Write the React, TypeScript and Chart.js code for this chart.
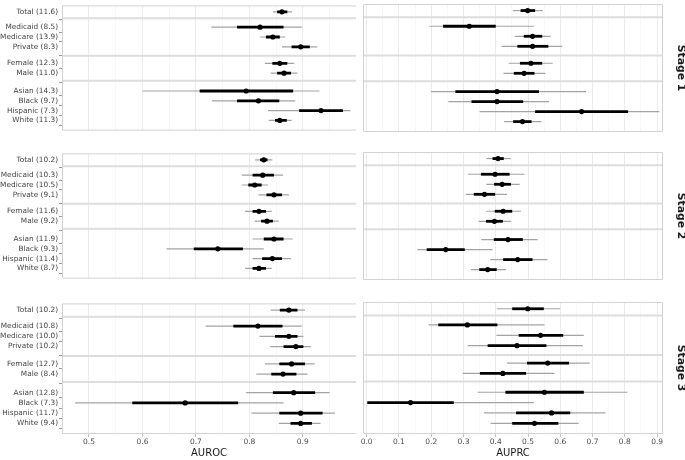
import React, { useEffect, useRef } from "react";
import { Chart, registerables } from "chart.js";

Chart.register(...registerables);

// ---------- data ----------
const GROUP_SIZES = [1, 3, 2, 4];
const STAGE_NAMES = ["Stage 1", "Stage 2", "Stage 3"];

const S1_LABELS = ["Total (11.6)", "Medicaid (8.5)", "Medicare (13.9)", "Private (8.3)", "Female (12.3)", "Male (11.0)", "Asian (14.3)", "Black (9.7)", "Hispanic (7.3)", "White (11.3)"];
const S2_LABELS = ["Total (10.2)", "Medicaid (10.3)", "Medicare (10.5)", "Private (9.1)", "Female (11.6)", "Male (9.2)", "Asian (11.9)", "Black (9.3)", "Hispanic (11.4)", "White (8.7)"];
const S3_LABELS = ["Total (10.2)", "Medicaid (10.8)", "Medicare (10.0)", "Private (10.2)", "Female (12.7)", "Male (8.4)", "Asian (12.8)", "Black (7.3)", "Hispanic (11.7)", "White (9.4)"];

const AUROC_TICKS = [0.5, 0.6, 0.7, 0.8, 0.9];
const AUPRC_TICKS = [0.0, 0.1, 0.2, 0.3, 0.4, 0.5, 0.6, 0.7, 0.8, 0.9];
const AUROC_RANGE = [0.4495, 0.9995];
const AUPRC_RANGE = [-0.0113, 0.9183];

const S1_AUROC_EST = [0.861, 0.820, 0.844, 0.896, 0.857, 0.865, 0.794, 0.817, 0.934, 0.857];
const S1_AUROC_INNER = [[0.852, 0.871], [0.777, 0.864], [0.831, 0.857], [0.879, 0.913], [0.843, 0.871], [0.852, 0.878], [0.707, 0.882], [0.777, 0.856], [0.893, 0.975], [0.848, 0.870]];
const S1_AUROC_OUTER = [[0.844, 0.880], [0.729, 0.898], [0.820, 0.867], [0.861, 0.927], [0.829, 0.884], [0.840, 0.890], [0.600, 0.931], [0.730, 0.886], [0.835, 0.989], [0.836, 0.879]];

const S1_AUPRC_EST = [0.499, 0.318, 0.514, 0.514, 0.509, 0.488, 0.404, 0.404, 0.666, 0.483];
const S1_AUPRC_INNER = [[0.477, 0.522], [0.237, 0.400], [0.487, 0.544], [0.467, 0.563], [0.475, 0.544], [0.456, 0.520], [0.275, 0.534], [0.325, 0.485], [0.522, 0.810], [0.454, 0.511]];
const S1_AUPRC_OUTER = [[0.453, 0.546], [0.194, 0.519], [0.459, 0.570], [0.418, 0.606], [0.440, 0.577], [0.424, 0.554], [0.199, 0.680], [0.253, 0.565], [0.350, 0.907], [0.426, 0.541]];

const S2_AUROC_EST = [0.827, 0.825, 0.810, 0.846, 0.818, 0.833, 0.846, 0.741, 0.843, 0.818];
const S2_AUROC_INNER = [[0.820, 0.834], [0.806, 0.846], [0.798, 0.823], [0.832, 0.861], [0.806, 0.831], [0.822, 0.844], [0.827, 0.864], [0.696, 0.788], [0.824, 0.861], [0.806, 0.831]];
const S2_AUROC_OUTER = [[0.811, 0.843], [0.786, 0.863], [0.786, 0.835], [0.817, 0.874], [0.792, 0.842], [0.810, 0.855], [0.806, 0.881], [0.645, 0.827], [0.806, 0.878], [0.792, 0.842]];

const S2_AUPRC_EST = [0.407, 0.398, 0.420, 0.365, 0.423, 0.396, 0.438, 0.245, 0.468, 0.375];
const S2_AUPRC_INNER = [[0.390, 0.425], [0.354, 0.443], [0.395, 0.447], [0.332, 0.398], [0.397, 0.451], [0.370, 0.422], [0.394, 0.484], [0.186, 0.304], [0.423, 0.514], [0.349, 0.403]];
const S2_AUPRC_OUTER = [[0.371, 0.447], [0.315, 0.489], [0.371, 0.474], [0.308, 0.435], [0.371, 0.478], [0.347, 0.448], [0.355, 0.530], [0.157, 0.390], [0.383, 0.560], [0.323, 0.432]];

const S3_AUROC_EST = [0.874, 0.816, 0.874, 0.887, 0.879, 0.863, 0.883, 0.680, 0.896, 0.896];
const S3_AUROC_INNER = [[0.857, 0.890], [0.770, 0.862], [0.848, 0.890], [0.864, 0.901], [0.856, 0.904], [0.841, 0.888], [0.844, 0.923], [0.581, 0.779], [0.856, 0.937], [0.877, 0.917]];
const S3_AUROC_OUTER = [[0.840, 0.904], [0.718, 0.898], [0.819, 0.901], [0.839, 0.915], [0.829, 0.922], [0.813, 0.909], [0.794, 0.950], [0.474, 0.864], [0.804, 0.960], [0.855, 0.933]];

const S3_AUPRC_EST = [0.499, 0.312, 0.539, 0.466, 0.561, 0.422, 0.551, 0.136, 0.573, 0.520];
const S3_AUPRC_INNER = [[0.451, 0.549], [0.222, 0.405], [0.471, 0.609], [0.375, 0.557], [0.497, 0.627], [0.351, 0.494], [0.430, 0.673], [0.002, 0.270], [0.463, 0.631], [0.451, 0.594]];
const S3_AUPRC_OUTER = [[0.403, 0.600], [0.192, 0.551], [0.402, 0.673], [0.313, 0.670], [0.435, 0.691], [0.298, 0.582], [0.344, 0.808], [0.000, 0.518], [0.364, 0.740], [0.384, 0.657]];

// ---------- layout helpers ----------
const FONT = '"DejaVu Sans", Verdana, sans-serif';
const STAGE_TOPS = [0, 148, 298];
const PANEL_H = 136;
const AXIS_H = 26;

function rowLayout(sizes: number[]) {
  const positions: number[] = [];
  const separators: number[] = [];
  let y = 0;
  sizes.forEach((n, g) => {
    const pad = 0.655 + 0.127 * (n - 1);
    y += pad;
    for (let i = 0; i < n; i++) positions.push(y + i);
    y += n - 1 + pad;
    if (g < sizes.length - 1) separators.push(y);
  });
  return { positions, separators, total: y };
}
const LAYOUT = rowLayout(GROUP_SIZES);

const near = (a: number, b: number) => Math.abs(a - b) < 1e-6;

function gridValues(majors: number[], range: number[]) {
  const vals: number[] = [];
  majors.forEach((m) => {
    [m - 0.05, m, m + 0.05].forEach((v) => {
      if (v >= range[0] - 1e-9 && v <= range[1] + 1e-9 && !vals.some((x) => near(x, v))) vals.push(v);
    });
  });
  return vals.sort((a, b) => a - b);
}

const panelPlugin = {
  id: "panelBox",
  beforeDatasetsDraw(chart: any) {
    const { ctx, chartArea: a, scales } = chart;
    ctx.save();
    ctx.strokeStyle = "#dddddd";
    ctx.lineWidth = 2;
    LAYOUT.separators.forEach((s) => {
      const y = scales.y.getPixelForValue(s);
      ctx.beginPath();
      ctx.moveTo(a.left, y);
      ctx.lineTo(a.right, y);
      ctx.stroke();
    });
    ctx.restore();
  },
  afterDraw(chart: any, _args: any, opts: any) {
    const { ctx, chartArea: a } = chart;
    ctx.save();
    ctx.strokeStyle = "#d2d2d2";
    ctx.lineWidth = 1;
    ctx.beginPath();
    if (opts.side === "left") {
      ctx.moveTo(a.right, a.top + 0.5);
      ctx.lineTo(a.left + 0.5, a.top + 0.5);
      ctx.lineTo(a.left + 0.5, a.bottom - 0.5);
      ctx.lineTo(a.right, a.bottom - 0.5);
    } else {
      ctx.rect(a.left + 0.5, a.top + 0.5, a.right - a.left - 1, a.bottom - a.top - 1);
    }
    ctx.stroke();
    if (opts.stageLabel) {
      ctx.translate(a.right + 18, (a.top + a.bottom) / 2);
      ctx.rotate(Math.PI / 2);
      ctx.font = `bold 10.8px ${FONT}`;
      ctx.fillStyle = "#1a1a1a";
      ctx.textAlign = "center";
      ctx.textBaseline = "middle";
      ctx.fillText(opts.stageLabel, 0, 0);
    }
    ctx.restore();
  },
};

type Spec = {
  stage: number;
  metric: "AUROC" | "AUPRC";
  labels: string[];
  est: number[];
  inner: number[][];
  outer: number[][];
};

const PANELS: Spec[] = [
  { stage: 0, metric: "AUROC", labels: S1_LABELS, est: S1_AUROC_EST, inner: S1_AUROC_INNER, outer: S1_AUROC_OUTER },
  { stage: 0, metric: "AUPRC", labels: S1_LABELS, est: S1_AUPRC_EST, inner: S1_AUPRC_INNER, outer: S1_AUPRC_OUTER },
  { stage: 1, metric: "AUROC", labels: S2_LABELS, est: S2_AUROC_EST, inner: S2_AUROC_INNER, outer: S2_AUROC_OUTER },
  { stage: 1, metric: "AUPRC", labels: S2_LABELS, est: S2_AUPRC_EST, inner: S2_AUPRC_INNER, outer: S2_AUPRC_OUTER },
  { stage: 2, metric: "AUROC", labels: S3_LABELS, est: S3_AUROC_EST, inner: S3_AUROC_INNER, outer: S3_AUROC_OUTER },
  { stage: 2, metric: "AUPRC", labels: S3_LABELS, est: S3_AUPRC_EST, inner: S3_AUPRC_INNER, outer: S3_AUPRC_OUTER },
];

function ForestPanel({ spec }: { spec: Spec }) {
  const ref = useRef<HTMLCanvasElement | null>(null);
  const isLeft = spec.metric === "AUROC";
  const isBottom = spec.stage === 2;
  const left = isLeft ? 0 : 359;
  const width = isLeft ? 360 : 326;
  const top = STAGE_TOPS[spec.stage];
  const height = PANEL_H + (isBottom ? AXIS_H : 0);

  useEffect(() => {
    if (!ref.current) return;
    const majors = isLeft ? AUROC_TICKS : AUPRC_TICKS;
    const range = isLeft ? AUROC_RANGE : AUPRC_RANGE;
    const grid = gridValues(majors, range);
    const isMajor = (v: number) => majors.some((m) => near(m, v));
    const pos = LAYOUT.positions;

    const chart = new Chart(ref.current, {
      type: "bar",
      data: {
        datasets: [
          {
            type: "scatter",
            data: spec.est.map((v, i) => ({ x: v, y: pos[i] })),
            pointRadius: 2.6,
            pointBackgroundColor: "#000",
            pointBorderWidth: 0,
            order: 0,
          } as any,
          {
            type: "bar",
            data: spec.inner.map((r, i) => ({ x: r, y: pos[i] })),
            backgroundColor: "#000",
            borderWidth: 0,
            inflateAmount: 0,
            barThickness: 2.8,
            grouped: false,
            order: 1,
          } as any,
          {
            type: "bar",
            data: spec.outer.map((r, i) => ({ x: r, y: pos[i] })),
            backgroundColor: "#a3a3a3",
            borderWidth: 0,
            inflateAmount: 0,
            barThickness: 1.2,
            grouped: false,
            order: 2,
          } as any,
        ],
      },
      options: {
        indexAxis: "y",
        animation: false,
        responsive: false,
        events: [],
        layout: { padding: { left: 0, right: isLeft ? 1 : 22, top: 0, bottom: 0 } },
        plugins: {
          legend: { display: false },
          tooltip: { enabled: false },
          panelBox: { side: isLeft ? "left" : "right", stageLabel: isLeft ? "" : STAGE_NAMES[spec.stage] },
        } as any,
        scales: {
          x: {
            type: "linear",
            min: range[0],
            max: range[1],
            offset: false,
            border: { display: false },
            afterBuildTicks: (s: any) => {
              s.ticks = grid.map((v) => ({ value: v }));
            },
            afterFit: (s: any) => {
              s.height = isBottom ? AXIS_H : 0;
            },
            grid: {
              drawOnChartArea: true,
              drawTicks: isBottom,
              tickLength: 3,
              lineWidth: (c: any) => (c.tick && isMajor(c.tick.value) ? 1 : 0.6),
              color: (c: any) => (c.tick && isMajor(c.tick.value) ? "#ececec" : "#f4f4f4"),
              tickColor: (c: any) => (c.tick && isMajor(c.tick.value) ? "#c4c4c4" : "rgba(0,0,0,0)"),
            },
            ticks: {
              display: isBottom,
              autoSkip: false,
              maxRotation: 0,
              minRotation: 0,
              padding: 1,
              color: "#4d4d4d",
              font: { family: FONT, size: 7.5 },
              callback: (v: any) => (isMajor(Number(v)) ? Number(v).toFixed(1) : ""),
            },
            title: {
              display: isBottom,
              text: spec.metric,
              color: "#1a1a1a",
              font: { family: FONT, size: 10 },
              padding: { top: 0, bottom: 0.5 },
            },
          },
          y: {
            type: "linear",
            reverse: true,
            min: 0,
            max: LAYOUT.total,
            offset: false,
            display: isLeft,
            border: { display: false },
            afterBuildTicks: (s: any) => {
              s.ticks = pos.map((v) => ({ value: v }));
            },
            afterFit: (s: any) => {
              s.width = isLeft ? 62 : 0;
            },
            grid: { drawOnChartArea: false, drawTicks: true, tickLength: 3, tickColor: "#9a9a9a" },
            ticks: {
              autoSkip: false,
              padding: 1,
              color: "#444444",
              font: { family: FONT, size: 7.35 },
              callback: (_v: any, i: number) => spec.labels[i],
            },
          },
        },
      } as any,
      plugins: [panelPlugin as any],
    });
    return () => chart.destroy();
  }, []);

  return (
    <canvas
      ref={ref}
      width={width}
      height={height}
      style={{ position: "absolute", left, top, width, height }}
    />
  );
}

export default function App() {
  return (
    <div style={{ position: "absolute", left: 0, top: 0, width: 685, height: 460, overflow: "hidden", background: "#fff" }}>
      {PANELS.map((p, i) => (
        <ForestPanel key={i} spec={p} />
      ))}
    </div>
  );
}
